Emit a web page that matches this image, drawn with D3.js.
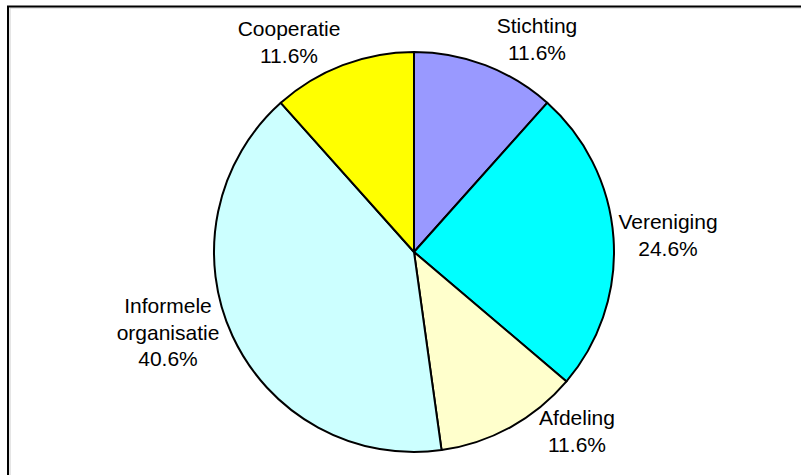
<!DOCTYPE html>
<html>
<head>
<meta charset="utf-8">
<script src="https://cdn.jsdelivr.net/npm/d3@7/dist/d3.min.js"></script>
<style>
html,body{margin:0;padding:0;background:#fff;}
svg{display:block;}
text{font-family:"Liberation Sans",Arial,sans-serif;font-size:21px;fill:#000;}
</style>
</head>
<body>
<svg id="chart" width="801" height="475"></svg>
<script>
const categories = ["Stichting", "Vereniging", "Afdeling", "Informele organisatie", "Cooperatie"];
const values = [11.6, 24.6, 11.6, 40.6, 11.6];
const labelLines = [["Stichting"], ["Vereniging"], ["Afdeling"], ["Informele", "organisatie"], ["Cooperatie"]];
const colors = ["#9999FF", "#00FFFF", "#FFFFCC", "#CCFFFF", "#FFFF00"];

// label layout: centre x offset and first baseline offset relative to pie centre
const labelLayout = [
  {dx: 123, dy: -219},
  {dx: 254, dy: -23},
  {dx: 163, dy: 173},
  {dx: -246, dy: 61},
  {dx: -125, dy: -216}
];

const svg = d3.select("#chart");
const cx = 414, cy = 252, r = 200, lineH = 26.5;

// frame
svg.append("line").attr("x1", 10).attr("y1", 8).attr("x2", 801).attr("y2", 8).attr("stroke", "#ccc").attr("stroke-width", 1);
svg.append("line").attr("x1", 10).attr("y1", 8).attr("x2", 10).attr("y2", 475).attr("stroke", "#ccc").attr("stroke-width", 1);
svg.append("rect").attr("x", 8).attr("y", 6.5).attr("width", 900).attr("height", 600)
  .attr("fill", "none").attr("stroke", "#000").attr("stroke-width", 2);

const data = categories.map((c, i) => ({name: c, value: values[i], i}));
const pie = d3.pie().value(d => d.value).sort(null);
const arc = d3.arc().innerRadius(0).outerRadius(r);
const arcs = pie(data);

const g = svg.append("g").attr("transform", `translate(${cx},${cy})`);
g.selectAll("path").data(arcs).enter().append("path")
  .attr("d", arc)
  .attr("fill", d => colors[d.data.i])
  .attr("stroke", "#000")
  .attr("stroke-width", 2)
  .attr("stroke-linejoin", "round");

const lg = g.selectAll("text.lbl").data(arcs).enter().append("text")
  .attr("class", "lbl")
  .attr("text-anchor", "middle")
  .attr("transform", d => `translate(${labelLayout[d.data.i].dx},${labelLayout[d.data.i].dy})`);
lg.each(function(d) {
  const t = d3.select(this);
  const lines = labelLines[d.data.i].concat([d.data.value.toFixed(1) + "%"]);
  lines.forEach((s, k) => {
    t.append("tspan").attr("x", 0).attr("y", k * lineH).text(s);
  });
});
</script>
</body>
</html>
